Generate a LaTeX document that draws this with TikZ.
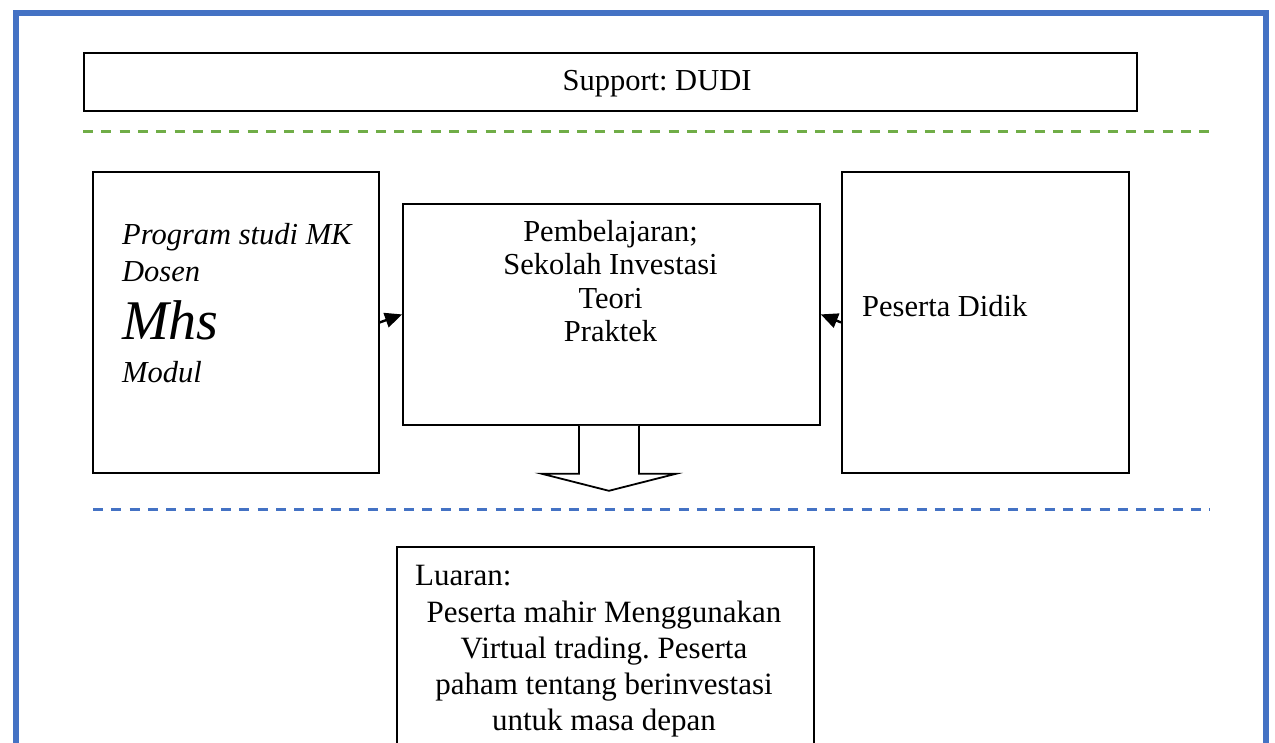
\documentclass[tikz,border=0pt]{standalone}
\usepackage{fontspec}
\setmainfont{Liberation Serif}
\usetikzlibrary{arrows.meta,calc}
\definecolor{wordblue}{HTML}{4472C4}
\definecolor{wordgreen}{HTML}{70AD47}
\frenchspacing
\begin{document}
\begin{tikzpicture}[x=1pt,y=-1pt,
  box/.style={draw=black,line width=1.8pt,inner sep=0pt,anchor=north west},
  txt/.style={inner sep=0pt,font=\fontsize{30.5}{33.5}\selectfont},
  ltxt/.style={inner sep=0pt,font=\fontsize{31}{36}\selectfont},
  itxt/.style={inner sep=0pt,anchor=base west,font=\fontsize{30.5}{35}\selectfont\itshape},
  arr/.style={line width=2.4pt,-{Triangle[length=17pt,width=15pt]}},
  sep/.style={line width=3pt,dash pattern=on 10pt off 8.3pt}
]
\useasboundingbox (0,0) rectangle (1275,743);
\clip (0,0) rectangle (1275,743);
% outer frame
\draw[wordblue,line width=6pt] (16,13) rectangle (1266,820);
% boxes
\node[box,minimum width=1053pt,minimum height=58pt] (support) at (83,52) {};
\node[box,minimum width=286pt,minimum height=301pt] (left) at (92,171) {};
\node[box,minimum width=417pt,minimum height=221pt] (mid) at (402,203) {};
\node[box,minimum width=287pt,minimum height=301pt] (right) at (841,171) {};
\node[box,minimum width=417pt,minimum height=320pt] (luaran) at (396,546) {};
% separators
\coordinate (g1) at (83,132);
\coordinate (g2) at (1210,132);
\coordinate (b1) at (93,509);
\coordinate (b2) at (1210,509);
\draw[sep,wordgreen] (g1) -- (g2);
\draw[sep,wordblue] (b1) -- (b2);
% texts
\node[txt,anchor=base] (supporttext) at (657,91) {Support: DUDI};
\node[itxt] (l1) at (122,245) {Program studi MK};
\node[itxt] (l2) at (122,282) {Dosen};
\node[itxt,font=\fontsize{56}{60}\selectfont\itshape] (l3) at (122,340) {Mhs};
\node[itxt] (l4) at (122,382) {Modul};
\node[txt,anchor=base,align=center] (midtext) at (610.5,342) {Pembelajaran;\\Sekolah Investasi\\Teori\\Praktek};
\node[txt,anchor=base west] (righttext) at (862,317) {Peserta Didik};
\node[ltxt,anchor=base west] (luarantitle) at (415,585) {Luaran:};
\node[ltxt,anchor=base,align=center] (luarantext) at (604,730) {Peserta mahir Menggunakan\\Virtual trading. Peserta\\paham tentang berinvestasi\\untuk masa depan};
% arrows
\draw[arr] (left.east) -- (mid.west);
\draw[arr] (right.west) -- (mid.east);
% block arrow
\draw[line width=1.8pt,fill=white,line join=miter]
  ($(mid.south)+(-32.5,0)$) -- ($(mid.south)+(-32.5,48)$) -- ($(mid.south)+(-69.5,48)$)
  -- ($(mid.south)+(-2.5,65)$) -- ($(mid.south)+(64.5,48)$) -- ($(mid.south)+(27.5,48)$)
  -- ($(mid.south)+(27.5,0)$);
\end{tikzpicture}
\end{document}
